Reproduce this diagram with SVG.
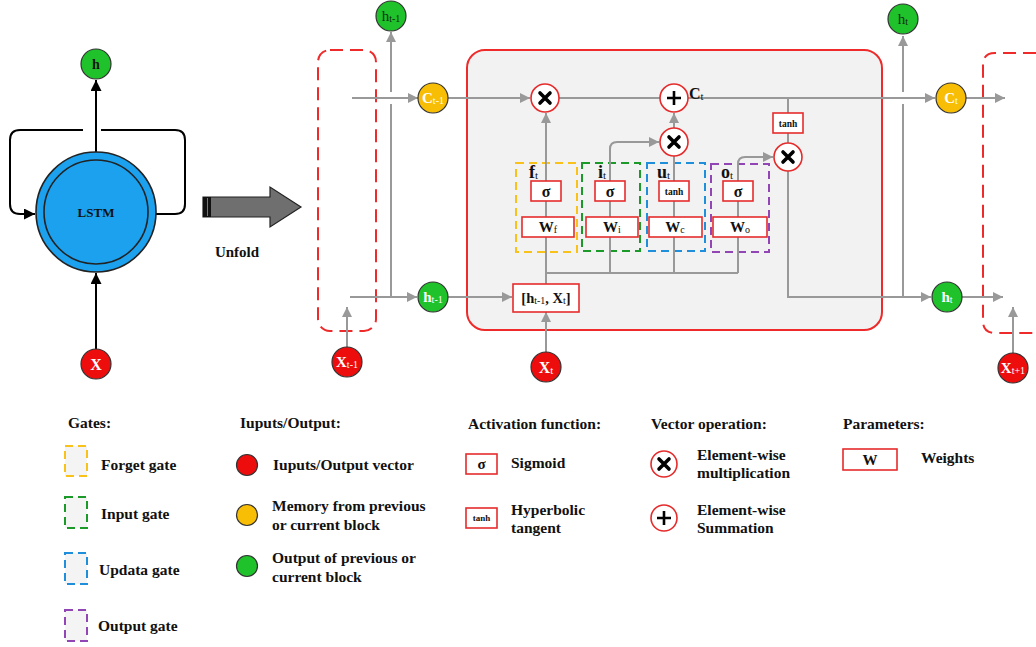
<svg xmlns="http://www.w3.org/2000/svg" width="1036" height="647" viewBox="0 0 1036 647">
  <defs>
    <marker id="ga" viewBox="0 0 10 10" refX="10" refY="5" markerWidth="11" markerHeight="10" markerUnits="userSpaceOnUse" orient="auto">
      <path d="M0,0 L10,5 L0,10 z" fill="#999"/>
    </marker>
    <marker id="ka" viewBox="0 0 10 10" refX="10" refY="5" markerWidth="11" markerHeight="11" markerUnits="userSpaceOnUse" orient="auto">
      <path d="M0,0 L10,5 L0,10 z" fill="#000"/>
    </marker>
  </defs>
  <style>
    text { font-family: "Liberation Serif", "Times New Roman", serif; font-weight: bold; fill: #111; }
    .ln { fill: none; stroke: #999; stroke-width: 2; }
    .bk { fill: none; stroke: #000; stroke-width: 2; }
    .op { fill: #fff; stroke: #e52b2b; stroke-width: 1.6; }
    .bx { fill: #fff; stroke: #e52b2b; stroke-width: 1.6; }
    .sym { stroke: #000; stroke-width: 3.6; stroke-linecap: round; fill: none; }
    .plus { stroke: #000; stroke-width: 2.6; fill: none; }
    .gc { fill: #1fc22a; stroke: #333; stroke-width: 1.2; }
    .oc { fill: #f8bd05; stroke: #333; stroke-width: 1.2; }
    .rc { fill: #ee0d0d; stroke: #333; stroke-width: 1.2; }
    .wt { fill: #fff; }
    .dk { fill: #0e2a0e; font-weight: normal; }
    .lg { font-size: 15.5px; }
    .sub { font-size: 10px; font-weight: normal; }
    .sub11 { font-size: 11px; font-weight: normal; }
    .fg { fill: none; stroke: #f8c21a; stroke-width: 2; stroke-dasharray: 8 5; }
    .ig { fill: none; stroke: #1b9a2a; stroke-width: 2; stroke-dasharray: 8 5; }
    .ug { fill: none; stroke: #1f8fdc; stroke-width: 2; stroke-dasharray: 8 5; }
    .og { fill: none; stroke: #9245b5; stroke-width: 2; stroke-dasharray: 8 5; }
    .lgbox { fill: #f4f4f4; }
    .rd { fill: none; stroke: #ee2a2a; stroke-width: 2; stroke-dasharray: 13 7; }
  </style>

  <rect width="1036" height="647" fill="#fff"/>

  <!-- compact (folded) LSTM cell -->
  <g id="folded">
    <path class="bk" d="M83,130 L20,130 Q10,130 10,140 L10,204 Q10,214 20,214 L35,214" marker-end="url(#ka)"/>
    <path class="bk" d="M156,214 L175,214 Q185,214 185,204 L185,140 Q185,130 175,130 L101,130"/>
    <line class="bk" x1="96" y1="152" x2="96" y2="80" marker-end="url(#ka)"/>
    <line class="bk" x1="96" y1="349" x2="96" y2="273" marker-end="url(#ka)"/>
  </g>
  <g id="lstm-cell">
    <circle cx="96" cy="212" r="60" fill="#1ba1ee" stroke="#222" stroke-width="1.6"/>
    <circle cx="96" cy="212" r="52" fill="#1ba1ee" stroke="#222" stroke-width="1.6"/>
    <text x="96" y="217" font-size="13" text-anchor="middle">LSTM</text>
  </g>
  <g id="h-out">
    <circle class="gc" cx="96" cy="64" r="15"/>
    <text x="96" y="69" font-size="14" text-anchor="middle">h</text>
  </g>
  <g id="x-in">
    <circle class="rc" cx="96" cy="364" r="15"/>
    <text class="wt" x="96" y="370" font-size="16" text-anchor="middle">X</text>
  </g>

  <!-- unfold arrow -->
  <g id="unfold">
    <path d="M203,197 L270,197 L270,187 L301,207 L270,227 L270,217 L203,217 Z" fill="#6f6f6f" stroke="#222" stroke-width="1.2"/>
    <rect x="203" y="197" width="8" height="20" fill="#111"/>
    <line x1="207.5" y1="198" x2="207.5" y2="216" stroke="#777" stroke-width="1"/>
    <text x="237" y="257" font-size="15" text-anchor="middle">Unfold</text>
  </g>

  <!-- neighbouring blocks (dashed) -->
  <g id="prev-block">
    <rect class="rd" x="318" y="50" width="58" height="281" rx="12"/>
  </g>
  <g id="next-block">
    <path class="rd" d="M1036,53 L995,53 Q983,53 983,65 L983,321 Q983,333 995,333 L1036,333"/>
  </g>

  <!-- main cell -->
  <g id="cell">
    <rect x="467" y="50" width="415" height="280" rx="18" fill="#f2f2f2" stroke="#ee2a2a" stroke-width="2"/>
  </g>

  <!-- gate boxes -->
  <g id="gate-forget">
    <rect class="fg" x="516" y="163" width="61" height="89"/>
    <text x="529" y="178" font-size="18">f<tspan class="sub11" dy="1">t</tspan></text>
  </g>
  <g id="gate-input">
    <rect class="ig" x="582" y="163" width="58" height="88"/>
    <text x="598" y="178" font-size="18">i<tspan class="sub11" dy="1">t</tspan></text>
  </g>
  <g id="gate-update">
    <rect class="ug" x="647" y="163" width="58" height="88"/>
    <text x="657" y="178" font-size="18">u<tspan class="sub11" dy="1">t</tspan></text>
  </g>
  <g id="gate-output">
    <rect class="og" x="711" y="164" width="58" height="88"/>
    <text x="721" y="178" font-size="18">o<tspan class="sub11" dy="1">t</tspan></text>
  </g>

  <!-- connectors -->
  <g id="connectors">
    <!-- cell state line -->
    <line class="ln" x1="352" y1="98" x2="418" y2="98" marker-end="url(#ga)"/>
    <line class="ln" x1="448" y1="98" x2="530" y2="98" marker-end="url(#ga)"/>
    <line class="ln" x1="559" y1="98" x2="660" y2="98"/>
    <line class="ln" x1="688" y1="98" x2="935" y2="98" marker-end="url(#ga)"/>
    <line class="ln" x1="966" y1="98" x2="1005" y2="98" marker-end="url(#ga)"/>
    <!-- hidden state line -->
    <line class="ln" x1="350" y1="297" x2="417" y2="297" marker-end="url(#ga)"/>
    <line class="ln" x1="448" y1="297" x2="512" y2="297" marker-end="url(#ga)"/>
    <polyline class="ln" points="788,171 788,297 931,297" marker-end="url(#ga)"/>
    <line class="ln" x1="962" y1="297" x2="1003" y2="297" marker-end="url(#ga)"/>
    <!-- outputs going up (with crossing gaps) -->
    <line class="ln" x1="391" y1="297" x2="391" y2="104"/>
    <line class="ln" x1="391" y1="92" x2="391" y2="32" marker-end="url(#ga)"/>
    <line class="ln" x1="903" y1="297" x2="903" y2="104"/>
    <line class="ln" x1="903" y1="92" x2="903" y2="36" marker-end="url(#ga)"/>
    <!-- inputs -->
    <line class="ln" x1="347" y1="347" x2="347" y2="307" marker-end="url(#ga)"/>
    <line class="ln" x1="546" y1="352" x2="546" y2="312" marker-end="url(#ga)"/>
    <line class="ln" x1="1013" y1="353" x2="1013" y2="307" marker-end="url(#ga)"/>
    <!-- concat to gates -->
    <line class="ln" x1="546" y1="284" x2="546" y2="237"/>
    <line class="ln" x1="546" y1="273" x2="738" y2="273"/>
    <line class="ln" x1="610" y1="273" x2="610" y2="237"/>
    <line class="ln" x1="674" y1="273" x2="674" y2="237"/>
    <line class="ln" x1="738" y1="273" x2="738" y2="237"/>
    <line class="ln" x1="546" y1="217" x2="546" y2="201"/>
    <line class="ln" x1="610" y1="217" x2="610" y2="201"/>
    <line class="ln" x1="674" y1="217" x2="674" y2="201"/>
    <line class="ln" x1="738" y1="217" x2="738" y2="201"/>
    <!-- gate outputs -->
    <line class="ln" x1="546" y1="181" x2="546" y2="113" marker-end="url(#ga)"/>
    <path class="ln" d="M610,181 L610,149 Q610,142 617,142 L659,142" marker-end="url(#ga)"/>
    <line class="ln" x1="674" y1="181" x2="674" y2="155"/>
    <line class="ln" x1="674" y1="128" x2="674" y2="113" marker-end="url(#ga)"/>
    <path class="ln" d="M738,181 L738,164 Q738,157 745,157 L773,157" marker-end="url(#ga)"/>
    <line class="ln" x1="788" y1="98" x2="788" y2="113"/>
    <line class="ln" x1="788" y1="133" x2="788" y2="143"/>
  </g>

  <!-- operators -->
  <g id="mul-forget">
    <circle class="op" cx="545" cy="98" r="14"/>
    <path class="sym" d="M540,93 L550,103 M550,93 L540,103"/>
  </g>
  <g id="add-cell">
    <circle class="op" cx="674" cy="98" r="14"/>
    <path class="plus" d="M667,98 L681,98 M674,91 L674,105"/>
    <text x="689" y="99" font-size="16">C<tspan class="sub11" dy="1">t</tspan></text>
  </g>
  <g id="mul-input">
    <circle class="op" cx="674" cy="142" r="14"/>
    <path class="sym" d="M669,137 L679,147 M679,137 L669,147"/>
  </g>
  <g id="mul-output">
    <circle class="op" cx="788" cy="157" r="14"/>
    <path class="sym" d="M783,152 L793,162 M793,152 L783,162"/>
  </g>
  <g id="tanh-cell">
    <rect class="bx" x="773" y="113" width="30" height="20"/>
    <text x="788" y="127" font-size="9.5" text-anchor="middle">tanh</text>
  </g>

  <!-- activations and weights -->
  <g id="sigma-f">
    <rect class="bx" x="531" y="181" width="30" height="20"/>
    <text x="546" y="197" font-size="16" text-anchor="middle">σ</text>
  </g>
  <g id="sigma-i">
    <rect class="bx" x="595" y="181" width="30" height="20"/>
    <text x="610" y="197" font-size="16" text-anchor="middle">σ</text>
  </g>
  <g id="tanh-u">
    <rect class="bx" x="659" y="181" width="30" height="20"/>
    <text x="674" y="195" font-size="9.5" text-anchor="middle">tanh</text>
  </g>
  <g id="sigma-o">
    <rect class="bx" x="723" y="181" width="30" height="20"/>
    <text x="738" y="197" font-size="16" text-anchor="middle">σ</text>
  </g>
  <g id="w-f">
    <rect class="bx" x="522" y="217" width="52" height="20"/>
    <text x="548" y="232" font-size="15" text-anchor="middle">W<tspan class="sub" dy="1">f</tspan></text>
  </g>
  <g id="w-i">
    <rect class="bx" x="586" y="217" width="52" height="20"/>
    <text x="612" y="232" font-size="15" text-anchor="middle">W<tspan class="sub" dy="1">i</tspan></text>
  </g>
  <g id="w-c">
    <rect class="bx" x="649" y="217" width="53" height="20"/>
    <text x="675" y="232" font-size="15" text-anchor="middle">W<tspan class="sub" dy="1">c</tspan></text>
  </g>
  <g id="w-o">
    <rect class="bx" x="713" y="217" width="54" height="20"/>
    <text x="740" y="232" font-size="15" text-anchor="middle">W<tspan class="sub" dy="1">o</tspan></text>
  </g>
  <g id="concat">
    <rect class="bx" x="513" y="284" width="66" height="28"/>
    <text x="546" y="303" font-size="14.5" text-anchor="middle">[h<tspan class="sub" dy="1">t-1</tspan><tspan dy="-1">, X</tspan><tspan class="sub" dy="1">t</tspan><tspan dy="-1">]</tspan></text>
  </g>

  <!-- state nodes -->
  <g id="h-prev-top">
    <circle class="gc" cx="391" cy="16" r="15"/>
    <text class="dk" x="391" y="21" font-size="15" text-anchor="middle">h<tspan class="sub" dy="1">t-1</tspan></text>
  </g>
  <g id="c-prev">
    <circle class="oc" cx="433" cy="98" r="15"/>
    <text class="wt" x="433" y="103" font-size="15" text-anchor="middle">C<tspan class="sub wt" dy="1">t-1</tspan></text>
  </g>
  <g id="h-prev">
    <circle class="gc" cx="433" cy="297" r="15"/>
    <text class="wt" x="433" y="302" font-size="15" text-anchor="middle">h<tspan class="sub wt" dy="1">t-1</tspan></text>
  </g>
  <g id="x-prev">
    <circle class="rc" cx="347" cy="362" r="15"/>
    <text class="wt" x="347" y="367" font-size="15" text-anchor="middle">X<tspan class="sub wt" dy="1">t-1</tspan></text>
  </g>
  <g id="x-cur">
    <circle class="rc" cx="546" cy="367" r="15"/>
    <text class="wt" x="546" y="373" font-size="16" text-anchor="middle">X<tspan class="sub11 wt" dy="1">t</tspan></text>
  </g>
  <g id="h-cur-top">
    <circle class="gc" cx="903" cy="19" r="15"/>
    <text class="dk" x="903" y="24" font-size="15" text-anchor="middle">h<tspan class="sub" dy="1">t</tspan></text>
  </g>
  <g id="c-cur">
    <circle class="oc" cx="951" cy="98" r="15"/>
    <text class="wt" x="951" y="103" font-size="15" text-anchor="middle">C<tspan class="sub wt" dy="1">t</tspan></text>
  </g>
  <g id="h-cur">
    <circle class="gc" cx="947" cy="297" r="15"/>
    <text class="wt" x="947" y="302" font-size="15" text-anchor="middle">h<tspan class="sub wt" dy="1">t</tspan></text>
  </g>
  <g id="x-next">
    <circle class="rc" cx="1013" cy="368" r="15"/>
    <text class="wt" x="1013" y="373" font-size="15" text-anchor="middle">X<tspan class="sub wt" dy="1">t+1</tspan></text>
  </g>

  <!-- legend -->
  <g id="legend-gates">
    <text class="lg" x="68" y="428">Gates:</text>
    <rect class="fg lgbox" x="65" y="446" width="22" height="30"/>
    <text class="lg" x="101" y="470">Forget gate</text>
    <rect class="ig lgbox" x="65" y="497" width="22" height="31"/>
    <text class="lg" x="101" y="519">Input gate</text>
    <rect class="ug lgbox" x="65" y="553" width="22" height="31"/>
    <text class="lg" x="99" y="575">Updata gate</text>
    <rect class="og lgbox" x="65" y="610" width="22" height="31"/>
    <text class="lg" x="98" y="631">Output gate</text>
  </g>
  <g id="legend-io">
    <text class="lg" x="240" y="428">Iuputs/Output:</text>
    <circle class="rc" cx="247" cy="465" r="10.5"/>
    <text class="lg" x="273" y="470">Iuputs/Output vector</text>
    <circle class="oc" cx="247" cy="515" r="10.5"/>
    <text class="lg" x="272" y="511">Memory from previous</text>
    <text class="lg" x="272" y="530">or current block</text>
    <circle class="gc" cx="247" cy="566" r="10.5"/>
    <text class="lg" x="272" y="563">Output of previous or</text>
    <text class="lg" x="272" y="582">current block</text>
  </g>
  <g id="legend-activation">
    <text class="lg" x="468" y="429">Activation function:</text>
    <rect class="bx" x="466" y="454" width="31" height="20"/>
    <text x="481.5" y="469" font-size="15" text-anchor="middle">σ</text>
    <text class="lg" x="511" y="468">Sigmoid</text>
    <rect class="bx" x="466" y="508" width="31" height="20"/>
    <text x="481.5" y="521" font-size="9" text-anchor="middle">tanh</text>
    <text class="lg" x="511" y="515">Hyperbolic</text>
    <text class="lg" x="511" y="533">tangent</text>
  </g>
  <g id="legend-vector">
    <text class="lg" x="651" y="429">Vector operation:</text>
    <circle class="op" cx="664" cy="464" r="13"/>
    <path class="sym" d="M659,459 L669,469 M669,459 L659,469"/>
    <text class="lg" x="697" y="460">Element-wise</text>
    <text class="lg" x="697" y="478">multiplication</text>
    <circle class="op" cx="664" cy="518" r="13"/>
    <path class="plus" d="M657,518 L671,518 M664,511 L664,525"/>
    <text class="lg" x="697" y="515">Element-wise</text>
    <text class="lg" x="697" y="533">Summation</text>
  </g>
  <g id="legend-params">
    <text class="lg" x="843" y="429">Parameters:</text>
    <rect class="bx" x="843" y="449" width="54" height="21"/>
    <text x="870" y="465" font-size="15" text-anchor="middle">W</text>
    <text class="lg" x="921" y="463">Weights</text>
  </g>
</svg>
